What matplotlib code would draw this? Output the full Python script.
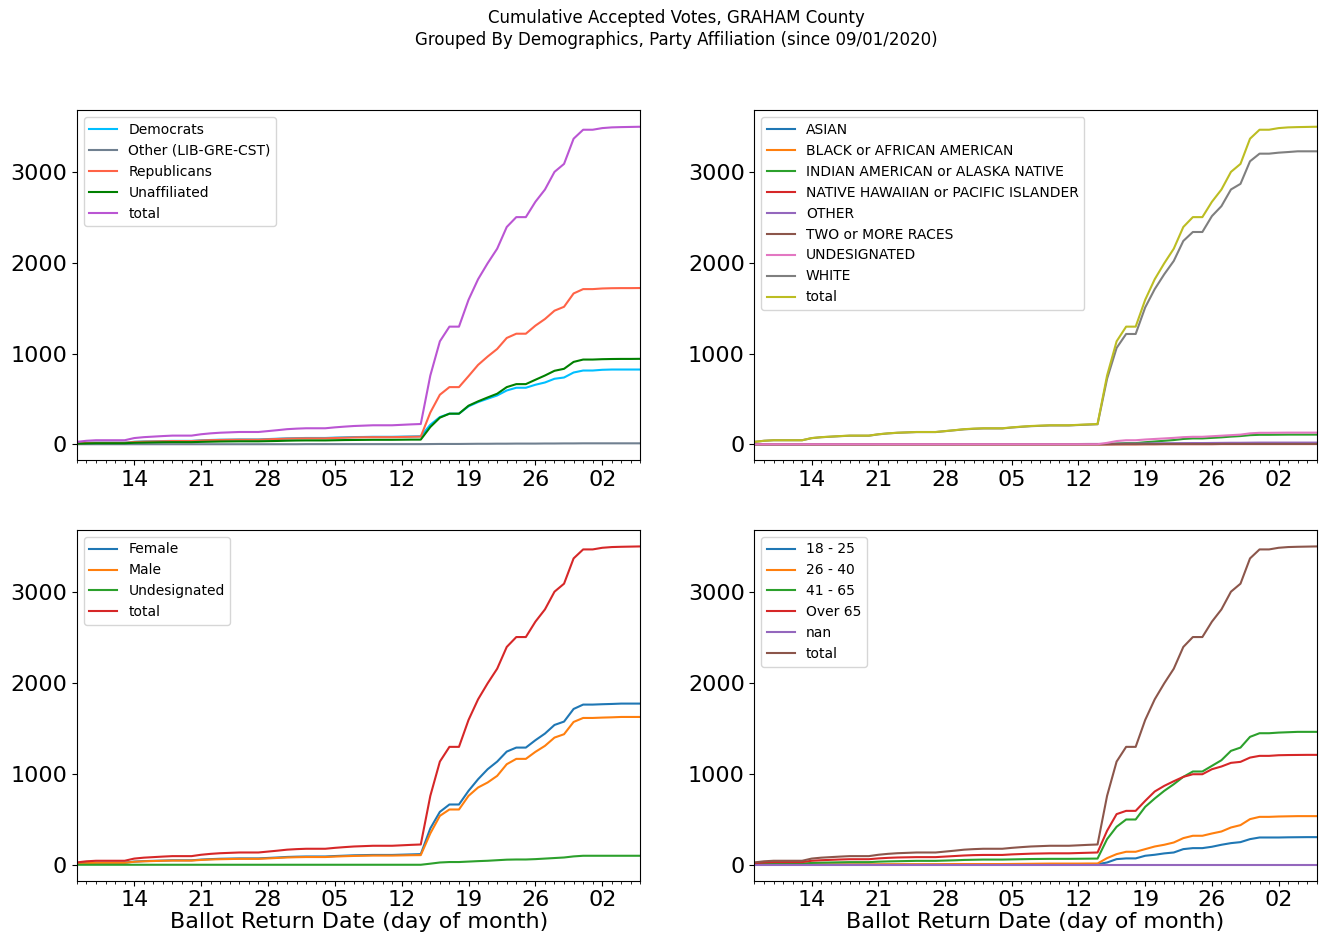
import numpy as np
import pandas as pd
import matplotlib
matplotlib.use("Agg")
import matplotlib.pyplot as plt
import matplotlib.dates as mdates

# daily ballot return dates, 09/08 .. 11/06
dates = pd.date_range("2020-09-08", "2020-11-06", freq="D")

total = [26, 38, 44, 44, 44, 44, 68, 78, 84, 90, 95, 95, 95, 110, 120, 127, 131, 135, 135, 135,
         145, 155, 166, 172, 176, 176, 176, 186, 194, 201, 205, 209, 209, 209, 214, 219, 223,
         758, 1135, 1297, 1297, 1593, 1820, 1996, 2157, 2396, 2505, 2505, 2674, 2809, 3004,
         3092, 3370, 3469, 3469, 3487, 3495, 3498, 3500, 3502]

# party
dem = [10, 15, 17, 17, 17, 17, 27, 31, 33, 35, 37, 37, 37, 43, 47, 50, 51, 53, 53, 53,
       57, 61, 65, 67, 69, 69, 69, 73, 76, 79, 80, 82, 82, 82, 84, 86, 88,
       215, 300, 337, 337, 418, 465, 502, 538, 593, 623, 623, 656, 681, 722,
       736, 791, 813, 813, 821, 824, 824, 824, 824]
oth = [0, 0, 0, 0, 0, 0, 0, 0, 0, 0, 0, 0, 0, 0, 0, 0, 0, 0, 0, 0,
       0, 0, 0, 0, 1, 1, 1, 1, 1, 1, 1, 1, 1, 1, 1, 1, 1,
       2, 3, 3, 3, 4, 5, 5, 6, 6, 7, 7, 7, 8, 8,
       9, 9, 10, 10, 10, 10, 10, 10, 10]
rep = [10, 14, 16, 16, 16, 16, 25, 29, 31, 33, 35, 35, 35, 41, 45, 47, 49, 50, 50, 50,
       54, 58, 62, 64, 65, 65, 65, 69, 72, 75, 77, 78, 78, 78, 80, 82, 84,
       350, 546, 630, 630, 751, 875, 967, 1051, 1172, 1219, 1219, 1308, 1381, 1473,
       1516, 1663, 1711, 1711, 1718, 1721, 1722, 1722, 1723]
unaf = [6, 9, 11, 11, 11, 11, 16, 18, 20, 22, 23, 23, 23, 26, 28, 30, 31, 32, 32, 32,
        34, 36, 39, 41, 42, 42, 42, 44, 46, 47, 48, 49, 49, 49, 50, 51, 51,
        190, 293, 337, 337, 425, 473, 516, 557, 630, 663, 663, 711, 758, 810,
        832, 908, 934, 934, 938, 940, 941, 941, 942]

# race
asian = [0, 0, 0, 0, 0, 0, 0, 0, 0, 0, 0, 0, 0, 1, 1, 1, 1, 1, 1, 1,
         1, 1, 1, 1, 1, 1, 1, 1, 1, 1, 1, 1, 1, 1, 1, 1, 1,
         1, 2, 3, 3, 4, 4, 5, 5, 6, 6, 6, 6, 7, 7,
         7, 8, 8, 8, 8, 8, 8, 8, 8]
black = [0, 0, 0, 0, 0, 0, 0, 0, 0, 0, 0, 0, 0, 0, 0, 0, 0, 0, 0, 0,
         0, 0, 0, 0, 0, 0, 0, 0, 0, 0, 0, 0, 0, 0, 0, 0, 0,
         0, 1, 1, 1, 2, 2, 3, 3, 3, 4, 4, 4, 4, 5,
         5, 5, 5, 5, 5, 5, 5, 5, 5]
indian = [0, 0, 0, 0, 0, 0, 0, 0, 0, 0, 0, 0, 0, 0, 0, 0, 0, 0, 0, 0,
          0, 0, 0, 0, 0, 0, 0, 0, 0, 0, 0, 0, 0, 0, 0, 0, 0,
          3, 8, 12, 12, 22, 30, 38, 46, 58, 64, 64, 70, 76, 84,
          90, 100, 104, 104, 105, 106, 106, 106, 106]
nhpi = [0, 0, 0, 0, 0, 0, 0, 0, 0, 0, 0, 0, 0, 0, 0, 0, 0, 0, 0, 0,
        0, 0, 0, 0, 0, 0, 0, 0, 0, 0, 0, 0, 0, 0, 0, 0, 0,
        0, 0, 0, 0, 1, 1, 1, 1, 1, 1, 1, 1, 2, 2,
        2, 2, 2, 2, 2, 2, 2, 2, 2]
race_other = [0, 0, 0, 0, 0, 0, 1, 1, 1, 1, 1, 1, 1, 1, 1, 1, 1, 1, 1, 1,
              1, 1, 2, 2, 2, 2, 2, 2, 2, 2, 2, 2, 2, 2, 2, 3, 3,
              3, 5, 6, 6, 8, 9, 10, 11, 12, 13, 13, 14, 15, 16,
              16, 17, 18, 18, 18, 18, 18, 18, 18]
two_more = [0, 0, 0, 0, 0, 0, 0, 0, 0, 0, 0, 0, 0, 0, 0, 0, 0, 0, 0, 0,
            0, 0, 0, 0, 0, 0, 0, 0, 0, 0, 0, 0, 0, 0, 0, 0, 0,
            0, 1, 1, 1, 1, 1, 2, 2, 2, 2, 2, 2, 3, 3,
            3, 3, 3, 3, 3, 3, 3, 3, 3]
race_undes = [0, 0, 0, 0, 0, 0, 0, 0, 0, 0, 0, 0, 0, 0, 0, 0, 0, 0, 0, 0,
              0, 0, 0, 0, 0, 0, 0, 0, 0, 0, 0, 0, 0, 0, 0, 0, 0,
              15, 35, 44, 44, 52, 58, 64, 70, 78, 82, 82, 88, 94, 100,
              106, 120, 126, 126, 127, 128, 128, 128, 128]
white = [26, 38, 44, 44, 44, 44, 67, 77, 83, 89, 94, 94, 94, 109, 119, 126, 130, 134, 134, 134,
         144, 154, 164, 170, 174, 174, 174, 184, 192, 199, 203, 207, 207, 207, 212, 216, 220,
         722, 1062, 1216, 1216, 1509, 1711, 1875, 2022, 2242, 2341, 2341, 2516, 2626, 2810,
         2872, 3121, 3205, 3205, 3216, 3223, 3231, 3231, 3231]

# gender
female = [14, 20, 23, 23, 23, 23, 35, 40, 43, 46, 49, 49, 49, 57, 62, 66, 68, 70, 70, 70,
          75, 80, 86, 89, 91, 91, 91, 96, 100, 104, 106, 108, 108, 108, 111, 114, 117,
          400, 582, 663, 663, 813, 941, 1051, 1135, 1245, 1289, 1289, 1370, 1443, 1538,
          1575, 1714, 1762, 1762, 1766, 1769, 1773, 1773, 1773]
male = [12, 18, 21, 21, 21, 21, 33, 38, 41, 44, 46, 46, 46, 53, 58, 61, 63, 65, 65, 65,
        70, 75, 80, 83, 85, 85, 85, 90, 94, 97, 99, 101, 101, 101, 103, 105, 106,
        345, 538, 608, 608, 758, 850, 905, 978, 1106, 1165, 1165, 1242, 1308, 1399,
        1436, 1571, 1615, 1615, 1619, 1622, 1626, 1626, 1626]
gender_undes = [0, 0, 0, 0, 0, 0, 0, 0, 0, 0, 0, 0, 0, 0, 0, 0, 0, 0, 0, 0,
                0, 0, 0, 0, 0, 0, 0, 0, 0, 0, 0, 0, 0, 0, 0, 0, 0,
                12, 25, 30, 30, 35, 40, 44, 50, 56, 58, 58, 62, 68, 74,
                80, 92, 99, 99, 99, 99, 99, 99, 99]

# age
age_18_25 = [0, 0, 0, 0, 0, 0, 1, 1, 1, 1, 1, 1, 1, 1, 1, 2, 2, 2, 2, 2,
             2, 2, 3, 3, 3, 3, 3, 4, 5, 5, 5, 5, 5, 5, 6, 6, 6,
             25, 62, 70, 70, 99, 110, 125, 135, 172, 183, 183, 198, 220, 238,
             249, 282, 300, 300, 300, 302, 303, 304, 304]
age_26_40 = [1, 2, 2, 2, 2, 2, 3, 4, 4, 4, 4, 4, 4, 5, 6, 6, 6, 6, 6, 6,
             7, 8, 8, 8, 8, 8, 8, 9, 10, 11, 12, 13, 13, 13, 13, 14, 14,
             73, 117, 143, 143, 172, 201, 220, 245, 293, 319, 319, 344, 366, 410,
             436, 502, 527, 527, 531, 533, 535, 535, 535]
age_41_65 = [7, 11, 13, 13, 13, 13, 20, 23, 25, 27, 29, 29, 29, 34, 37, 39, 41, 43, 43, 43,
             46, 49, 53, 55, 57, 57, 57, 59, 61, 63, 64, 65, 65, 65, 66, 67, 68,
             282, 418, 498, 498, 637, 729, 813, 886, 967, 1026, 1026, 1088, 1150, 1253,
             1289, 1407, 1447, 1447, 1454, 1458, 1462, 1462, 1462]
age_over_65 = [18, 25, 29, 29, 29, 29, 44, 50, 54, 58, 61, 61, 61, 70, 76, 80, 82, 84, 84, 84,
               90, 96, 102, 106, 108, 108, 108, 114, 118, 122, 124, 126, 126, 126, 129, 132, 135,
               374, 557, 593, 593, 703, 806, 868, 919, 967, 996, 996, 1051, 1081, 1121,
               1132, 1179, 1198, 1198, 1205, 1207, 1208, 1209, 1209]
age_nan = [0] * len(dates)

party = pd.DataFrame({"Democrats": dem, "Other (LIB-GRE-CST)": oth,
                      "Republicans": rep, "Unaffiliated": unaf, "total": total}, index=dates)
race = pd.DataFrame({"ASIAN": asian, "BLACK or AFRICAN AMERICAN": black,
                     "INDIAN AMERICAN or ALASKA NATIVE": indian,
                     "NATIVE HAWAIIAN or PACIFIC ISLANDER": nhpi, "OTHER": race_other,
                     "TWO or MORE RACES": two_more, "UNDESIGNATED": race_undes,
                     "WHITE": white, "total": total}, index=dates)
gender = pd.DataFrame({"Female": female, "Male": male, "Undesignated": gender_undes,
                       "total": total}, index=dates)
age = pd.DataFrame({"18 - 25": age_18_25, "26 - 40": age_26_40, "41 - 65": age_41_65,
                    "Over 65": age_over_65, "nan": age_nan, "total": total}, index=dates)

party_colors = ["deepskyblue", "slategray", "tomato", "green", "mediumorchid"]

fig = plt.figure(figsize=(13.26, 9.43), dpi=100)
fig.suptitle("Cumulative Accepted Votes, GRAHAM County\n"
             "Grouped By Demographics, Party Affiliation (since 09/01/2020)",
             fontsize=12, x=0.51, y=0.99, linespacing=1.25)

boxes = [[0.058, 0.512, 0.425, 0.371], [0.569, 0.512, 0.424, 0.371],
         [0.058, 0.066, 0.425, 0.372], [0.569, 0.066, 0.424, 0.372]]
frames = [party, race, gender, age]

for i, (df, box) in enumerate(zip(frames, boxes)):
    ax = fig.add_axes(box)
    for j, col in enumerate(df.columns):
        c = party_colors[j] if i == 0 else "C%d" % j
        ax.plot(df.index, df[col], color=c, lw=1.5, label=col)
    ax.set_xlim(dates[0], dates[-1])
    ax.set_ylim(-176, 3683)
    ax.set_yticks([0, 1000, 2000, 3000])
    ax.xaxis.set_major_locator(mdates.WeekdayLocator(byweekday=mdates.MO))
    ax.xaxis.set_minor_locator(mdates.DayLocator())
    ax.xaxis.set_major_formatter(mdates.DateFormatter("%d"))
    ax.tick_params(labelsize=16)
    ax.legend(loc="upper left", fontsize=10)
    if i >= 2:
        ax.set_xlabel("Ballot Return Date (day of month)", fontsize=16, labelpad=1)

fig.savefig("out.png", dpi=100)
